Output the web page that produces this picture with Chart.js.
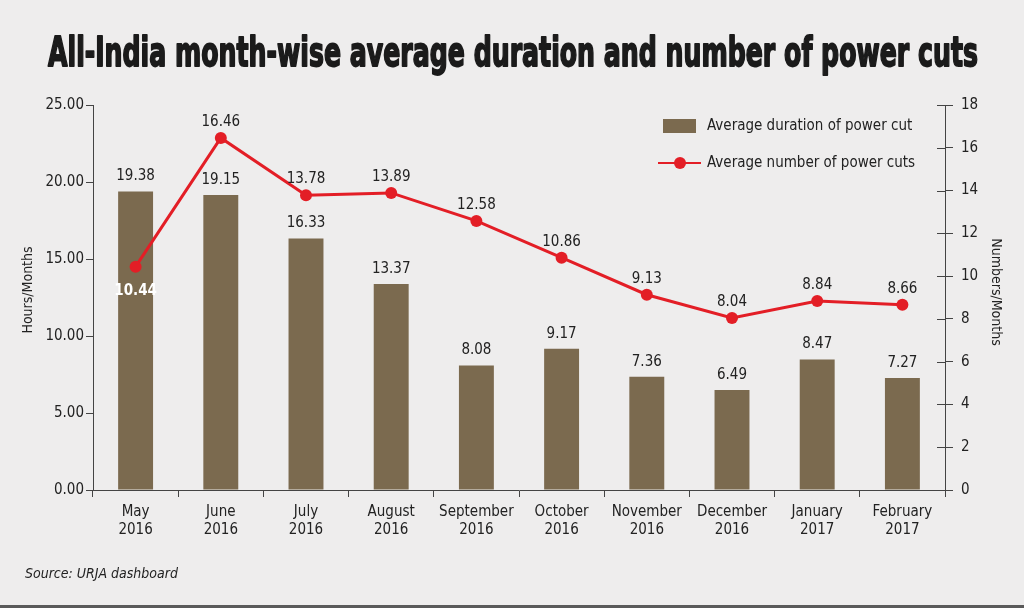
<!DOCTYPE html>
<html>
<head>
<meta charset="utf-8">
<script src="https://cdn.jsdelivr.net/npm/chart.js@4"></script>
<style>
    html, body { margin: 0; padding: 0; background: #eeeded; }
    #wrap { width: 1024px; height: 608px; position: relative; }
</style>
</head>
<body>
<div id="wrap"><canvas id="powerChart"></canvas></div>
<script>
// chart data
const months = [
    ["May", "2016"], ["June", "2016"], ["July", "2016"], ["August", "2016"],
    ["September", "2016"], ["October", "2016"], ["November", "2016"],
    ["December", "2016"], ["January", "2017"], ["February", "2017"]
];
const avgDuration = [19.38, 19.15, 16.33, 13.37, 8.08, 9.17, 7.36, 6.49, 8.47, 7.27];
const avgCuts = [10.44, 16.46, 13.78, 13.89, 12.58, 10.86, 9.13, 8.04, 8.84, 8.66];

const NARROW = '"Liberation Sans Narrow", "DejaVu Sans Condensed", sans-serif';
const BROWN = "#7b6a4f";
const RED = "#e31e26";
const TEXT = "#222";

// draws title, labels, legend and the bits chart.js has no option for
const extrasPlugin = {
    id: "extras",
    afterDraw(chart) {
        const ctx = chart.ctx;
        const area = chart.chartArea;
        const y1 = chart.scales.y1;
        ctx.save();

        // title, squeezed to fit the width
        ctx.font = "bold 40px " + NARROW;
        ctx.fillStyle = "#1b1b1b";
        ctx.textBaseline = "alphabetic";
        ctx.textAlign = "left";
        const title = "All-India month-wise average duration and number of power cuts";
        const w = ctx.measureText(title).width;
        ctx.save();
        ctx.translate(48, 66);
        ctx.scale(930 / w, 1);
        ctx.lineWidth = 1.8;
        ctx.lineJoin = "round";
        ctx.strokeStyle = "#1b1b1b";
        ctx.fillText(title, 0, 0);
        ctx.strokeText(title, 0, 0);
        ctx.restore();

        // inner half of right axis ticks
        ctx.strokeStyle = "#444";
        ctx.lineWidth = 1;
        y1.ticks.forEach((t, i) => {
            const py = Math.round(y1.getPixelForTick(i)) + 0.5;
            ctx.beginPath();
            ctx.moveTo(area.right - 8, py);
            ctx.lineTo(area.right, py);
            ctx.stroke();
        });

        // value labels
        ctx.font = "15px " + NARROW;
        ctx.textAlign = "center";
        ctx.textBaseline = "middle";
        const barMeta = chart.getDatasetMeta(0);
        barMeta.data.forEach((bar, i) => {
            ctx.fillStyle = TEXT;
            ctx.fillText(avgDuration[i].toFixed(2), bar.x, bar.y - 15);
        });
        const lineMeta = chart.getDatasetMeta(1);
        lineMeta.data.forEach((pt, i) => {
            if (i === 0) {
                ctx.font = "bold 15px " + NARROW;
                ctx.fillStyle = "#fff";
                ctx.fillText(avgCuts[i].toFixed(2), pt.x, pt.y + 24);
                ctx.font = "15px " + NARROW;
            } else {
                ctx.fillStyle = TEXT;
                ctx.fillText(avgCuts[i].toFixed(2), pt.x, pt.y - 16);
            }
        });

        // legend
        ctx.fillStyle = BROWN;
        ctx.fillRect(663, 119, 33, 14);
        ctx.strokeStyle = RED;
        ctx.lineWidth = 2;
        ctx.beginPath();
        ctx.moveTo(658, 163);
        ctx.lineTo(701, 163);
        ctx.stroke();
        ctx.fillStyle = RED;
        ctx.beginPath();
        ctx.arc(680, 163, 6, 0, Math.PI * 2);
        ctx.fill();
        ctx.fillStyle = TEXT;
        ctx.textAlign = "left";
        ctx.font = "15px " + NARROW;
        ctx.fillText("Average duration of power cut", 707, 126);
        ctx.fillText("Average number of power cuts", 707, 163);

        // axis titles
        ctx.font = "14px " + NARROW;
        ctx.textAlign = "center";
        ctx.save();
        ctx.translate(28, 290);
        ctx.rotate(-Math.PI / 2);
        ctx.fillText("Hours/Months", 0, 0);
        ctx.restore();
        ctx.save();
        ctx.translate(996, 292);
        ctx.rotate(Math.PI / 2);
        ctx.fillText("Numbers/Months", 0, 0);
        ctx.restore();

        // source
        ctx.font = "italic 14px " + NARROW;
        ctx.textAlign = "left";
        ctx.fillText("Source: URJA dashboard", 25, 574);

        // bottom rule
        ctx.fillStyle = "#5a5a5a";
        ctx.fillRect(0, 605, 1024, 3);
        ctx.restore();
    }
};

const ctx = document.getElementById("powerChart").getContext("2d");
new Chart(ctx, {
    data: {
        labels: months,
        datasets: [{
            type: "bar",
            label: "Average duration of power cut",
            data: avgDuration,
            backgroundColor: BROWN,
            yAxisID: "y",
            categoryPercentage: 1,
            barPercentage: 0.41,
            order: 2
        }, {
            type: "line",
            label: "Average number of power cuts",
            data: avgCuts,
            borderColor: RED,
            backgroundColor: RED,
            borderWidth: 3,
            pointRadius: 6,
            pointHoverRadius: 6,
            pointBackgroundColor: RED,
            pointBorderWidth: 0,
            tension: 0,
            yAxisID: "y1",
            order: 1
        }]
    },
    options: {
        responsive: true,
        maintainAspectRatio: false,
        animation: false,
        layout: { padding: { top: 105, left: 0, right: 0, bottom: 0 } },
        plugins: {
            legend: { display: false },
            tooltip: { enabled: false }
        },
        scales: {
            x: {
                afterFit: s => { s.height = 118; },
                grid: {
                    offset: true,
                    drawOnChartArea: false,
                    tickLength: 7,
                    color: "#444"
                },
                border: { color: "#444", width: 1 },
                ticks: {
                    color: TEXT,
                    padding: 6,
                    maxRotation: 0,
                    font: { family: NARROW, size: 15, lineHeight: 1.2 }
                }
            },
            y: {
                position: "left",
                min: 0,
                max: 25,
                afterFit: s => { s.width = 93; },
                grid: { drawOnChartArea: false, tickLength: 7, color: "#444" },
                border: { color: "#444", width: 1 },
                ticks: {
                    stepSize: 5,
                    color: TEXT,
                    padding: 2,
                    font: { family: NARROW, size: 15 },
                    callback: v => v.toFixed(2)
                }
            },
            y1: {
                position: "right",
                min: 0,
                max: 18,
                afterFit: s => { s.width = 79; },
                grid: { drawOnChartArea: false, tickLength: 8, color: "#444" },
                border: { color: "#444", width: 1 },
                ticks: {
                    stepSize: 2,
                    color: TEXT,
                    padding: 8,
                    font: { family: NARROW, size: 15 }
                }
            }
        }
    },
    plugins: [extrasPlugin]
});
</script>
</body>
</html>
